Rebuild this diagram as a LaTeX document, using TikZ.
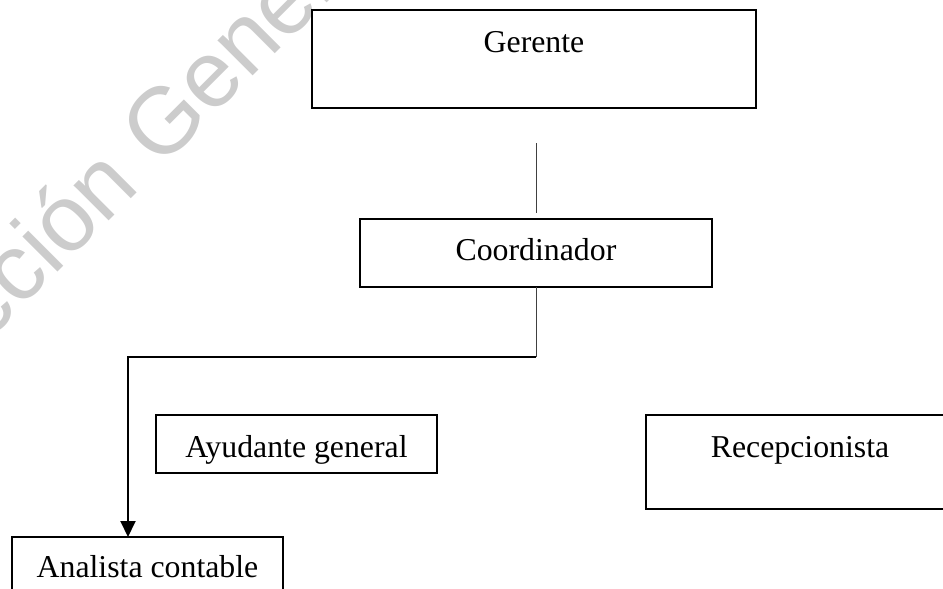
\documentclass[tikz,border=0pt]{standalone}
\usepackage{fontspec}
\setmainfont{Liberation Serif}
\newfontfamily\wmfont{Liberation Sans}
\usepackage{tikz}
\usetikzlibrary{calc,arrows.meta,positioning}

\begin{document}
\begin{tikzpicture}[x=0.5pt,y=-0.5pt,
		cargo/.style={draw,line width=1.2pt,inner sep=0pt,outer sep=0pt,anchor=north west,
			font=\fontsize{15.9pt}{19pt}\selectfont},
		fino/.style={line width=0.5pt,draw=black!75},
		flecha/.style={line width=1pt,-{Triangle[width=7.5pt,length=8pt]}}]
		\useasboundingbox (0,0) rectangle (943,589);
		\clip (0,0) rectangle (943,589);
		% marca de agua
		\node[rotate=45,anchor=base west,inner sep=0pt,text=black!20,
			font=\wmfont\fontsize{47pt}{56pt}\selectfont] (marca) at (-135.5,465.3) {Dirección General};
		\node[cargo,text height=21pt,text depth=28pt,minimum width=222pt] (ger) at (312,10) {Gerente};
		\node[cargo,text height=20.5pt,text depth=13.5pt,minimum width=176pt] (coord) at (360,219) {Coordinador};
		\node[cargo,text height=21pt,text depth=8pt,minimum width=140.5pt] (ayud) at (156,415) {Ayudante general};
		\node[cargo,text height=21pt,text depth=26pt,minimum width=154pt] (recep) at (646,415) {Recepcionista};
		\node[cargo,text height=20pt,text depth=8pt,minimum width=135.5pt] (ana) at (12,537) {Analista contable};
		\coordinate (giro) at (128,357);
		\draw[fino,shorten <=17.5pt,shorten >=3pt] (coord.north |- ger.south) -- (coord.north);
		\draw[fino] (coord.south) -- (coord.south |- giro);
		\draw[flecha] (coord.south |- giro) -- (giro) -- (giro |- ana.north);
		%		\draw (ayud.north) -- (ayud.north |- giro);
		%		\draw (recep.north) -- (recep.north |- giro);
	\end{tikzpicture}
\end{document}
